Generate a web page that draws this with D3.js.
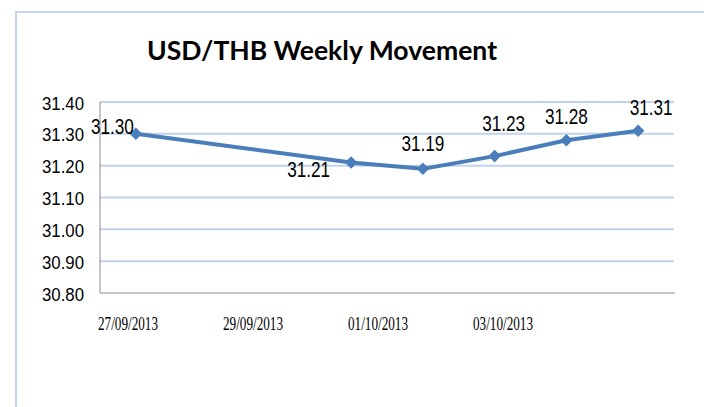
<!DOCTYPE html>
<html>
<head>
<meta charset="utf-8">
<script src="https://cdn.jsdelivr.net/npm/d3@7"></script>
<style>
  body { margin: 0; background: #fff; }
</style>
</head>
<body>
<div class="lineChart"></div>
<script>
// data
var dates      = ["27/09/2013", "30/09/2013", "01/10/2013", "02/10/2013", "03/10/2013", "04/10/2013"];
var rates      = [31.30, 31.21, 31.19, 31.23, 31.28, 31.31];
var yTicks     = [30.80, 30.90, 31.00, 31.10, 31.20, 31.30, 31.40];
var xTickLabels = ["27/09/2013", "29/09/2013", "01/10/2013", "03/10/2013"];
var title      = "USD/THB Weekly Movement";

var parse = d3.timeParse("%d/%m/%Y");
var data = dates.map(function (d, i) { return { date: parse(d), rate: rates[i] }; });

var width = 704, height = 407;
var plotLeft = 100, plotRight = 674, plotTop = 102, plotBottom = 293;
var blue = "#4a7ebb";

var svg = d3.select(".lineChart")
    .append("svg")
    .attr("width", width)
    .attr("height", height);

// outer frame (only top and left edges visible)
svg.append("path")
    .attr("d", "M16," + height + "V12H" + width)
    .attr("fill", "none")
    .attr("stroke", "#c5d6ee")
    .attr("stroke-width", 2);

svg.append("text")
    .attr("x", 322)
    .attr("y", 60)
    .attr("text-anchor", "middle")
    .attr("font-family", "Lato, 'Liberation Sans', sans-serif")
    .attr("font-weight", "bold")
    .attr("font-size", 27)
    .attr("textLength", 350)
    .attr("lengthAdjust", "spacingAndGlyphs")
    .text(title);

var halfDay = 12 * 3600 * 1000;
var x = d3.scaleTime()
    .domain([new Date(data[0].date - halfDay), new Date(+data[data.length - 1].date + halfDay)])
    .range([plotLeft, plotRight]);

var y = d3.scaleLinear()
    .domain([30.80, 31.40])
    .range([plotBottom, plotTop]);

// grid lines
svg.append("g").selectAll("line")
    .data(yTicks.filter(function (t) { return t > 30.85; }))
    .enter().append("line")
    .attr("x1", plotLeft)
    .attr("x2", plotRight)
    .attr("y1", function (d) { return y(d); })
    .attr("y2", function (d) { return y(d); })
    .attr("stroke", "#c0d3ec")
    .attr("stroke-width", 2);

// axes lines
svg.append("line")
    .attr("x1", plotLeft).attr("x2", plotLeft)
    .attr("y1", plotTop).attr("y2", plotBottom)
    .attr("stroke", "#8c8c8c").attr("stroke-width", 1);
svg.append("line")
    .attr("x1", plotLeft).attr("x2", plotRight + 1)
    .attr("y1", plotBottom).attr("y2", plotBottom)
    .attr("stroke", "#8c8c8c").attr("stroke-width", 1);

// y tick labels
svg.append("g").selectAll("text")
    .data(yTicks)
    .enter().append("text")
    .attr("x", 84)
    .attr("y", function (d) { return y(d) + 1; })
    .attr("dy", "0.35em")
    .attr("text-anchor", "end")
    .attr("font-family", "'Liberation Sans', Arial, sans-serif")
    .attr("font-size", 19)
    .attr("textLength", 42)
    .attr("lengthAdjust", "spacingAndGlyphs")
    .attr("fill", "#000")
    .text(function (d) { return d3.format(".2f")(d); });

// x tick labels
var xTick = d3.scalePoint()
    .domain(xTickLabels)
    .range([plotLeft + 28, plotLeft + 403]);

svg.append("g").selectAll("text")
    .data(xTickLabels)
    .enter().append("text")
    .attr("x", function (d) { return xTick(d); })
    .attr("y", 330)
    .attr("text-anchor", "middle")
    .attr("font-family", "'Liberation Serif', 'Times New Roman', serif")
    .attr("font-size", 18)
    .attr("textLength", 60)
    .attr("lengthAdjust", "spacingAndGlyphs")
    .attr("fill", "#000")
    .text(function (d) { return d; });

// the line
var line = d3.line()
    .x(function (d) { return x(d.date); })
    .y(function (d) { return y(d.rate); });

svg.append("path")
    .datum(data)
    .attr("d", line)
    .attr("fill", "none")
    .attr("stroke", blue)
    .attr("stroke-width", 4)
    .attr("stroke-linejoin", "round");

var diamond = d3.symbol().type(d3.symbolDiamond2).size(100);
svg.append("g").selectAll("path")
    .data(data)
    .enter().append("path")
    .attr("transform", function (d) { return "translate(" + x(d.date) + "," + y(d.rate) + ")"; })
    .attr("d", diamond)
    .attr("fill", blue);

// data labels, placement per point as in the original
var labelPlace = [[-2, 0, "end"], [-21, 15, "end"], [0, -18, "middle"], [9, -25, "middle"], [0, -16, "middle"], [13, -16, "middle"]];

svg.append("g").selectAll("text")
    .data(data)
    .enter().append("text")
    .attr("x", function (d, i) { return x(d.date) + labelPlace[i][0]; })
    .attr("y", function (d, i) { return y(d.rate) + labelPlace[i][1]; })
    .attr("text-anchor", function (d, i) { return labelPlace[i][2]; })
    .attr("font-family", "'Liberation Sans', Arial, sans-serif")
    .attr("font-size", 22)
    .attr("textLength", 43)
    .attr("lengthAdjust", "spacingAndGlyphs")
    .attr("fill", "#000")
    .text(function (d) { return d3.format(".2f")(d.rate); });
</script>
</body>
</html>
